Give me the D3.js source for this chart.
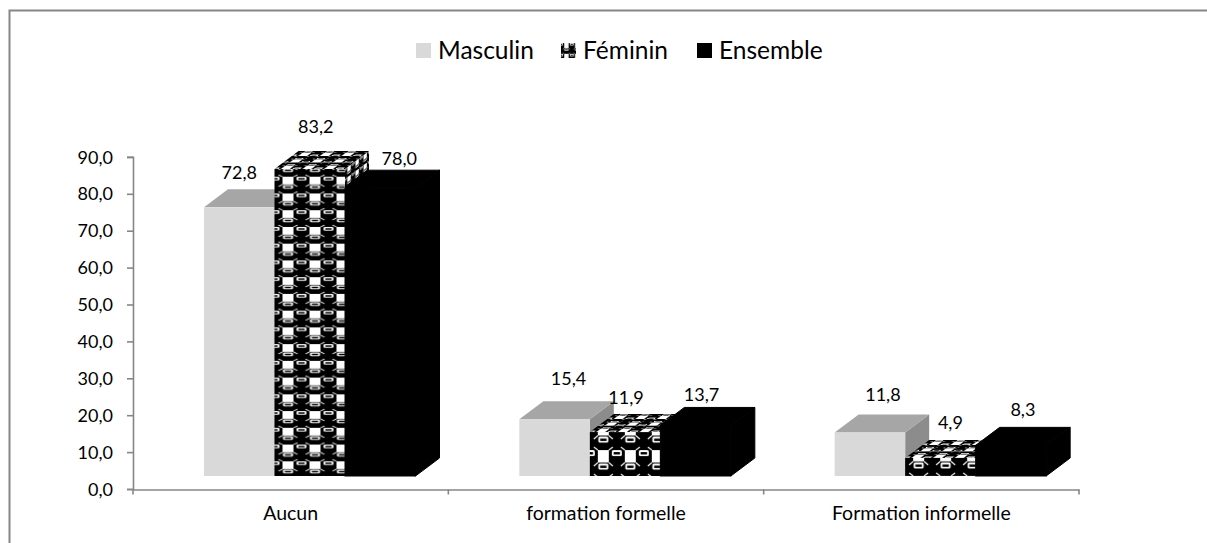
<!DOCTYPE html>
<html><head><meta charset="utf-8">
<script src="https://cdnjs.cloudflare.com/ajax/libs/d3/7.8.5/d3.min.js"></script>
<style>html,body{margin:0;background:#fff}svg{display:block}text{font-family:Lato,"Open Sans",sans-serif;fill:#000}</style>
</head><body><div id="c"></div>
<script>
const categories = ["Aucun", "formation formelle", "Formation informelle"];
const seriesNames = ["Masculin", "Féminin", "Ensemble"];
const masculin = [72.8, 15.4, 11.8];
const feminin = [83.2, 11.9, 4.9];
const ensemble = [78.0, 13.7, 8.3];
const yTicks = [0,10,20,30,40,50,60,70,80,90];

// layout: hand-placed data-label nudges, as in the source chart (per series, per category)
const labelNudge = {
  Masculin: [[0,-17],[14,-22],[13,-20]],
  "Féminin": [[6,-24],[1,-16],[10,-17]],
  Ensemble: [[19,-11],[6,-13],[12,-18]]
};
const W=1207,H=543, DX=24, DY=18, FRONT_LIFT=13;
const values = {Masculin:masculin,"Féminin":feminin,Ensemble:ensemble};

const svg=d3.select("#c").append("svg").attr("width",W).attr("height",H);
const defs=svg.append("defs");
const x=d3.scaleBand().domain(categories).range([133,1079]).paddingInner(0).paddingOuter(0);
const xInner=d3.scaleBand().domain(seriesNames).range([71,282.5]);
const y=d3.scaleLinear().domain([0,90]).range([489,156.9]);

function makePattern(id,transform){
  const P=27;
  const p=defs.append("pattern").attr("id",id).attr("patternUnits","userSpaceOnUse")
    .attr("width",P).attr("height",P).attr("patternTransform",transform);
  p.append("rect").attr("width",P).attr("height",P).attr("fill","#000");
  // white check
  p.append("rect").attr("x",8).attr("y",0).attr("width",11).attr("height",12.5).attr("fill","#fff");
  // thin white rims leaving the corners of the check
  const rim=[[8,12.5,4,16],[19,12.5,23,16],[8,0,4,-3],[19,0,23,-3],[8,27,4,24],[19,27,23,24]];
  rim.forEach(r=>p.append("line").attr("x1",r[0]).attr("y1",r[1]).attr("x2",r[2]).attr("y2",r[3]).attr("stroke","#fff").attr("stroke-width",1.1));
  // small framed highlights inside the dark blobs
  [[13.5,16.5],[0,3],[27,3],[0,30],[27,30]].forEach(([cx,cy])=>{
    p.append("rect").attr("x",cx-5).attr("y",cy-3).attr("width",10).attr("height",6).attr("rx",1.5).attr("fill","#fff");
    p.append("rect").attr("x",cx-3.2).attr("y",cy-1).attr("width",6.4).attr("height",2.4).attr("fill","#000");
  });
}

// frame
svg.append("path").attr("d",`M9.5,543V10.5H${W}`).attr("fill","none").attr("stroke","#868686").attr("stroke-width",2);

// axes
const yAxis=svg.append("g").attr("transform","translate(133,0)")
  .call(d3.axisLeft(y).tickValues(yTicks).tickSize(6).tickPadding(14).tickFormat(d=>d3.format(".1f")(d).replace(".",",")));
const xAxis=svg.append("g").attr("transform","translate(0,489.5)")
  .call(d3.axisBottom(x).tickSize(0).tickPadding(17));
[yAxis,xAxis].forEach(a=>{a.selectAll("path,line").attr("stroke","#868686").attr("stroke-width",1.6);});
yAxis.selectAll("text").attr("font-size",18).attr("dy","0.34em").style("font-family","Lato");
xAxis.selectAll("text").attr("font-size",19.5).style("font-family","Lato");
xAxis.selectAll(".tb").data(d3.range(categories.length+1)).enter().append("line")
  .attr("x1",i=>i<categories.length?x(categories[i]):x.range()[1])
  .attr("x2",i=>i<categories.length?x(categories[i]):x.range()[1])
  .attr("y1",0).attr("y2",5).attr("stroke","#868686").attr("stroke-width",1.6);

// bars (3D boxes), left to right so each next box overlaps the previous one's side
const g=svg.append("g");
categories.forEach((cat,ci)=>{
  seriesNames.forEach(s=>{
    const v=values[s][ci];
    const x0=x(cat)+xInner(s), bw=xInner.bandwidth();
    const yb=y(0)-FRONT_LIFT, yt=y(v)-FRONT_LIFT;
    let fillF,fillT,fillS;
    if(s==="Masculin"){fillF="#d9d9d9";fillT="#a6a6a6";fillS="#8c8c8c";}
    else if(s==="Ensemble"){fillF=fillT=fillS="#000";}
    else{
      const sy=ci===0?0.62:1;
      const a=`f${ci}`,b=`t${ci}`,c=`s${ci}`;
      makePattern(a,`translate(${x0},${yt-9}) scale(1,${sy})`);
      makePattern(b,`matrix(0.8,0,${DX/DY*0.24},-0.24,${x0},${yt})`);
      makePattern(c,`matrix(0.3,-0.225,0,${sy*0.6},${x0+bw},${yt})`);
      fillF=`url(#${a})`;fillT=`url(#${b})`;fillS=`url(#${c})`;
    }
    const box=g.append("g").attr("class","bar");
    const stroke=s==="Ensemble"?"#000":"none";
    box.append("path").attr("d",`M${x0+bw},${yt}L${x0+bw+DX},${yt-DY}V${yb-DY}L${x0+bw},${yb}Z`).attr("fill",fillS).attr("stroke",stroke);
    box.append("path").attr("d",`M${x0},${yt}L${x0+DX},${yt-DY}H${x0+bw+DX}L${x0+bw},${yt}Z`).attr("fill",fillT).attr("stroke",stroke);
    box.append("rect").attr("x",x0).attr("y",yt).attr("width",bw).attr("height",yb-yt).attr("fill",fillF).attr("stroke",stroke);
  });
});

// data labels
categories.forEach((cat,ci)=>{
  seriesNames.forEach(s=>{
    const v=values[s][ci];
    const [nx,ny]=labelNudge[s][ci];
    svg.append("text")
      .attr("x",x(cat)+xInner(s)+xInner.bandwidth()/2+nx)
      .attr("y",y(v)-FRONT_LIFT-DY+ny)
      .attr("dy","0.35em").attr("text-anchor","middle").attr("font-size",18)
      .text(d3.format(".1f")(v).replace(".",","));
  });
});

// legend
makePattern("lg","translate(561,43) scale(0.4)");
const legendX=[416,561,697];
const legendFill=["#d9d9d9","url(#lg)","#000"];
seriesNames.forEach((s,i)=>{
  svg.append("rect").attr("x",legendX[i]).attr("y",43).attr("width",15).attr("height",15).attr("fill",legendFill[i]);
  svg.append("text").attr("x",legendX[i]+22).attr("y",58.5).attr("font-size",24.5).text(s);
});
</script></body></html>
